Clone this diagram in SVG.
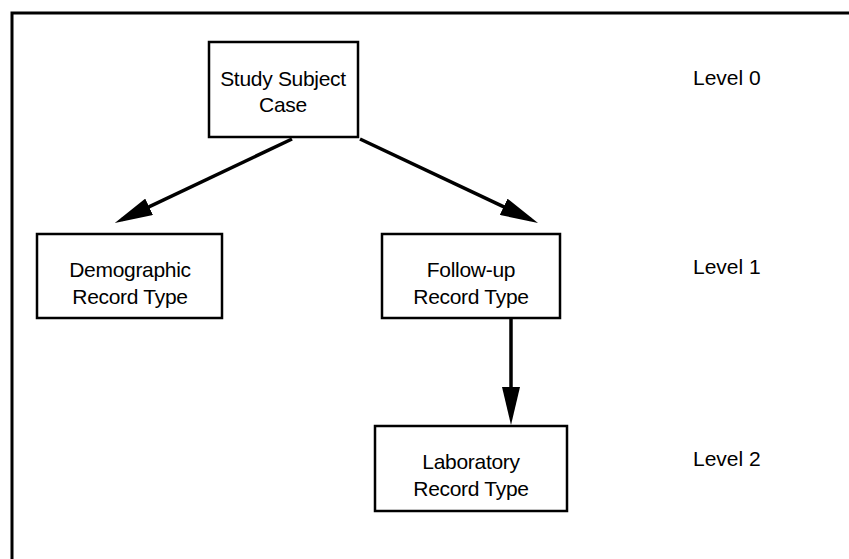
<svg xmlns="http://www.w3.org/2000/svg" width="849" height="559" viewBox="0 0 849 559">
<style>
.box{fill:#fff;stroke:#000;stroke-width:2.5}
.lbl{font-family:"Liberation Sans",Arial,sans-serif;font-size:21px;letter-spacing:-0.3px;fill:#000;text-anchor:middle}
.lvl{font-family:"Liberation Sans",Arial,sans-serif;font-size:21px;fill:#000}
.conn{stroke:#000;stroke-width:3.5;fill:none}
</style>
<defs>
<marker id="ah" markerUnits="userSpaceOnUse" viewBox="0 0 38 18" markerWidth="38" markerHeight="18" refX="30" refY="9" orient="auto">
<path d="M0,0 L38,9 L0,18 Z" fill="#000"/>
</marker>
</defs>
<rect x="12" y="13" width="900" height="600" fill="none" stroke="#000" stroke-width="3"/>
<g id="connectors">
<line class="conn" x1="292" y1="139" x2="122" y2="219.6" marker-end="url(#ah)"/>
<line class="conn" x1="360" y1="139" x2="530.8" y2="219.6" marker-end="url(#ah)"/>
<line class="conn" x1="511" y1="318" x2="511" y2="417" marker-end="url(#ah)"/>
</g>
<g id="study">
<rect class="box" x="209" y="42" width="149" height="95"/>
<text class="lbl" x="283" y="86">Study Subject</text>
<text class="lbl" x="283" y="112">Case</text>
</g>
<g id="demographic">
<rect class="box" x="37" y="234" width="185" height="84"/>
<text class="lbl" x="130" y="277">Demographic</text>
<text class="lbl" x="130" y="304">Record Type</text>
</g>
<g id="followup">
<rect class="box" x="382" y="234" width="178" height="84"/>
<text class="lbl" x="471" y="277">Follow-up</text>
<text class="lbl" x="471" y="304">Record Type</text>
</g>
<g id="laboratory">
<rect class="box" x="375" y="426" width="192" height="85"/>
<text class="lbl" x="471" y="469">Laboratory</text>
<text class="lbl" x="471" y="496">Record Type</text>
</g>
<g id="levels">
<text class="lvl" x="693" y="85">Level 0</text>
<text class="lvl" x="693" y="274">Level 1</text>
<text class="lvl" x="693" y="466">Level 2</text>
</g>
</svg>
